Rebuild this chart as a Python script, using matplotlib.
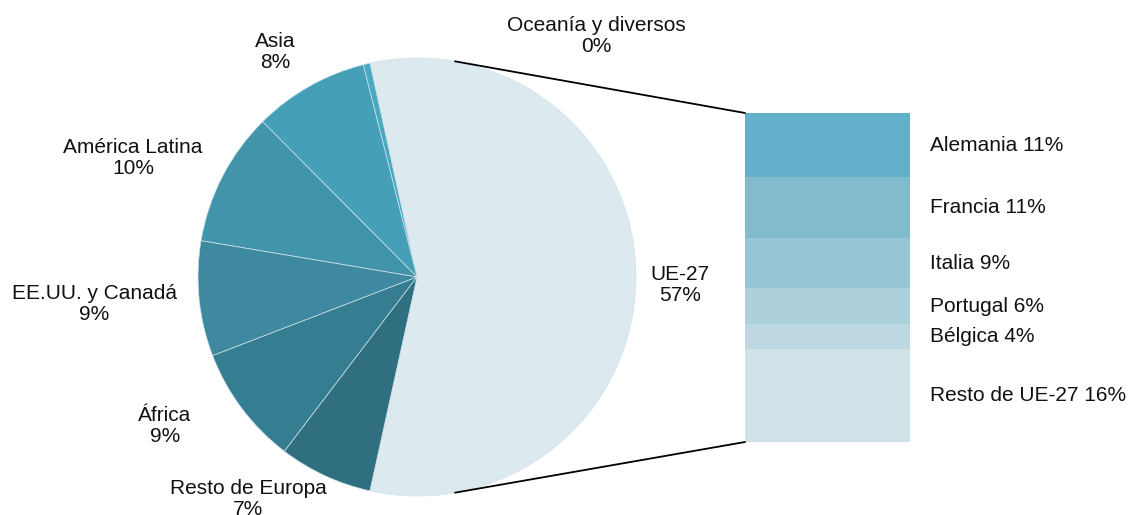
import numpy as np
import matplotlib
matplotlib.use("Agg")
import matplotlib.pyplot as plt
from matplotlib.patches import ConnectionPatch

plt.rcParams['font.family'] = ['Liberation Sans', 'DejaVu Sans']

# --- data ---
pie_labels = ["UE-27", "Oceanía y diversos", "Asia", "América Latina",
              "EE.UU. y Canadá", "África", "Resto de Europa"]
pie_values = [56.9, 0.5, 8.5, 9.9, 8.5, 8.8, 6.9]
pie_pct = ["57%", "0%", "8%", "10%", "9%", "9%", "7%"]
pie_colors = ["#dce9ef", "#4aa8c1", "#45a0b7", "#4294aa", "#3e899f", "#357d90", "#2f6f80"]

bar_labels = ["Alemania", "Francia", "Italia", "Portugal", "Bélgica", "Resto de UE-27"]
bar_values = [11.1, 10.6, 8.7, 6.2, 4.3, 16.1]
bar_pct = ["11%", "11%", "9%", "6%", "4%", "16%"]
bar_colors = ["#62b0c9", "#82bbce", "#97c5d4", "#add0dd", "#bdd8e2", "#cfe2e8"]

# label anchor points (pixels, from top-left)
pie_label_pos = [(680, 285), (596, 36), (275, 52), (133, 158),
                 (94, 304), (165, 426), (248, 499)]

W, H = 1131, 515
fig = plt.figure(figsize=(W / 100, H / 100), dpi=100)
ax = fig.add_axes([0, 0, 1, 1])
ax.set_xlim(0, W)
ax.set_ylim(0, H)
ax.axis('off')

cx, cy, r = 417, H - 277, 219
start = -pie_values[0] / 2 * 3.6
wedges, _ = ax.pie(pie_values, colors=pie_colors, startangle=start,
                   counterclock=True, center=(cx, cy), radius=r, frame=True,
                   wedgeprops=dict(edgecolor="#cfe3ea", linewidth=0.5))
ax.set_xlim(0, W)
ax.set_ylim(0, H)
ax.set_aspect('auto')
ax.axis('off')

for lab, pct, (px, py) in zip(pie_labels, pie_pct, pie_label_pos):
    ax.text(px, H - py, f"{lab}\n{pct}", ha='center', va='center',
            fontsize=15, linespacing=1.15, color="#111111")

# --- stacked bar of UE-27 ---
bx = fig.add_axes([745 / W, (H - 442) / H, 165 / W, 329 / H])
total = sum(bar_values)
bx.set_xlim(-0.5, 0.5)
bx.set_ylim(0, total)
bx.axis('off')
top = total
for lab, v, pct, c in zip(bar_labels, bar_values, bar_pct, bar_colors):
    bx.bar(0, v, bottom=top - v, width=1, color=c, linewidth=0)
    bx.text(0.62, top - v / 2, f"{lab} {pct}", ha='left', va='center',
            fontsize=15, color="#111111")
    top -= v

# connector lines
for ang, yb in [(80, total), (-80, 0)]:
    p = (cx + r * np.cos(np.radians(ang)), cy + r * np.sin(np.radians(ang)))
    con = ConnectionPatch(xyA=p, coordsA=ax.transData, xyB=(-0.5, yb),
                          coordsB=bx.transData, color="black", linewidth=1.3)
    fig.add_artist(con)

fig.savefig("out.png", dpi=100)
